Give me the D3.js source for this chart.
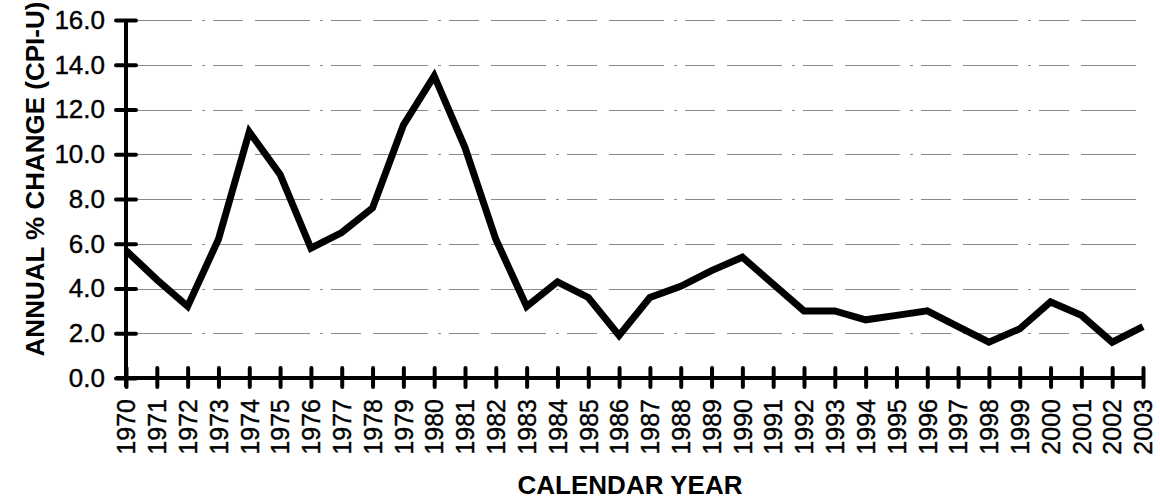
<!DOCTYPE html>
<html>
<head>
<meta charset="utf-8">
<script src="https://cdn.jsdelivr.net/npm/d3@7"></script>
<style>
  body { margin: 0; background: #fff; }
  svg { display: block; }
  .title { font-family: "Liberation Sans", Arial, sans-serif; font-size: 26px; font-weight: bold; fill: #000; }
</style>
</head>
<body>
<svg id="chart" width="1160" height="499"></svg>
<script>
// data
var years = [1970, 1971, 1972, 1973, 1974, 1975, 1976, 1977, 1978, 1979,
             1980, 1981, 1982, 1983, 1984, 1985, 1986, 1987, 1988, 1989,
             1990, 1991, 1992, 1993, 1994, 1995, 1996, 1997, 1998, 1999,
             2000, 2001, 2002, 2003];
var cpiChange = [5.7, 4.4, 3.2, 6.2, 11.0, 9.1, 5.8, 6.5, 7.6, 11.3,
                 13.5, 10.3, 6.2, 3.2, 4.3, 3.6, 1.9, 3.6, 4.1, 4.8,
                 5.4, 4.2, 3.0, 3.0, 2.6, 2.8, 3.0, 2.3, 1.6, 2.2,
                 3.4, 2.8, 1.6, 2.3];
var yTicks = [0, 2, 4, 6, 8, 10, 12, 14, 16];

var svg = d3.select("#chart"),
    plotLeft = 126, plotRight = 1143, plotTop = 20, plotBottom = 378;

var x = d3.scaleLinear().domain([years[0], years[years.length - 1]]).range([plotLeft, plotRight]);
var y = d3.scaleLinear().domain([0, 16]).range([plotBottom, plotTop]);

//gridlines
svg.append("g")
  .selectAll("line")
  .data(yTicks.filter(function(d){ return d > 0; }))
  .enter().append("line")
  .attr("x1", plotLeft + 11)
  .attr("x2", plotRight)
  .attr("y1", function(d){ return Math.round(y(d)) + 0.5; })
  .attr("y2", function(d){ return Math.round(y(d)) + 0.5; })
  .attr("stroke", "#8a8a8a")
  .attr("stroke-width", 1)
  .attr("stroke-dasharray", "55,10,3,8,30,12");

//y axis
var yAxis = svg.append("g")
  .attr("transform", "translate(" + plotLeft + ",0)")
  .call(d3.axisLeft(y).tickValues(yTicks).tickFormat(d3.format(".1f")).tickSize(0).tickPadding(21));
yAxis.select(".domain").remove();
yAxis.attr("font-family", "'Liberation Sans', Arial, sans-serif").attr("font-size", 26);
yAxis.selectAll("text").attr("fill", "#000").attr("stroke", "#000").attr("stroke-width", 0.4);
yAxis.selectAll(".tick").append("line")
  .attr("x1", -10).attr("x2", 10)
  .attr("stroke", "#000").attr("stroke-width", 4).attr("stroke-linecap", "round");
svg.append("line")
  .attr("x1", plotLeft).attr("x2", plotLeft)
  .attr("y1", plotTop).attr("y2", plotBottom + 9)
  .attr("stroke", "#000").attr("stroke-width", 4);

//x axis
var xAxis = svg.append("g")
  .attr("transform", "translate(0," + plotBottom + ")")
  .call(d3.axisBottom(x).tickValues(years).tickFormat(d3.format("d")).tickSize(0));
xAxis.select(".domain").remove();
xAxis.attr("font-family", "'Liberation Sans', Arial, sans-serif").attr("font-size", 25);
xAxis.selectAll("text")
  .attr("fill", "#000").attr("stroke", "#000").attr("stroke-width", 0.4)
  .attr("transform", "rotate(-90)")
  .attr("text-anchor", "end")
  .attr("x", -21)
  .attr("y", 0)
  .attr("dy", "0.35em");
xAxis.selectAll(".tick").append("line")
  .attr("y1", -10).attr("y2", 9)
  .attr("stroke", "#000").attr("stroke-width", 4).attr("stroke-linecap", "round");
svg.append("line")
  .attr("x1", plotLeft - 10).attr("x2", plotRight)
  .attr("y1", plotBottom).attr("y2", plotBottom)
  .attr("stroke", "#000").attr("stroke-width", 4);

//series line
var line = d3.line()
  .x(function(d, i){ return x(years[i]); })
  .y(function(d){ return y(d); });
svg.append("path")
  .datum(cpiChange)
  .attr("d", line)
  .attr("fill", "none")
  .attr("stroke", "#000")
  .attr("stroke-width", 7)
  .attr("stroke-linejoin", "miter");

//titles
svg.append("text")
  .attr("class", "title")
  .attr("text-anchor", "middle")
  .attr("transform", "translate(44,179) rotate(-90)")
  .text("ANNUAL % CHANGE (CPI-U)");
svg.append("text")
  .attr("class", "title")
  .attr("text-anchor", "middle")
  .attr("x", 630)
  .attr("y", 494)
  .text("CALENDAR YEAR");
</script>
</body>
</html>
